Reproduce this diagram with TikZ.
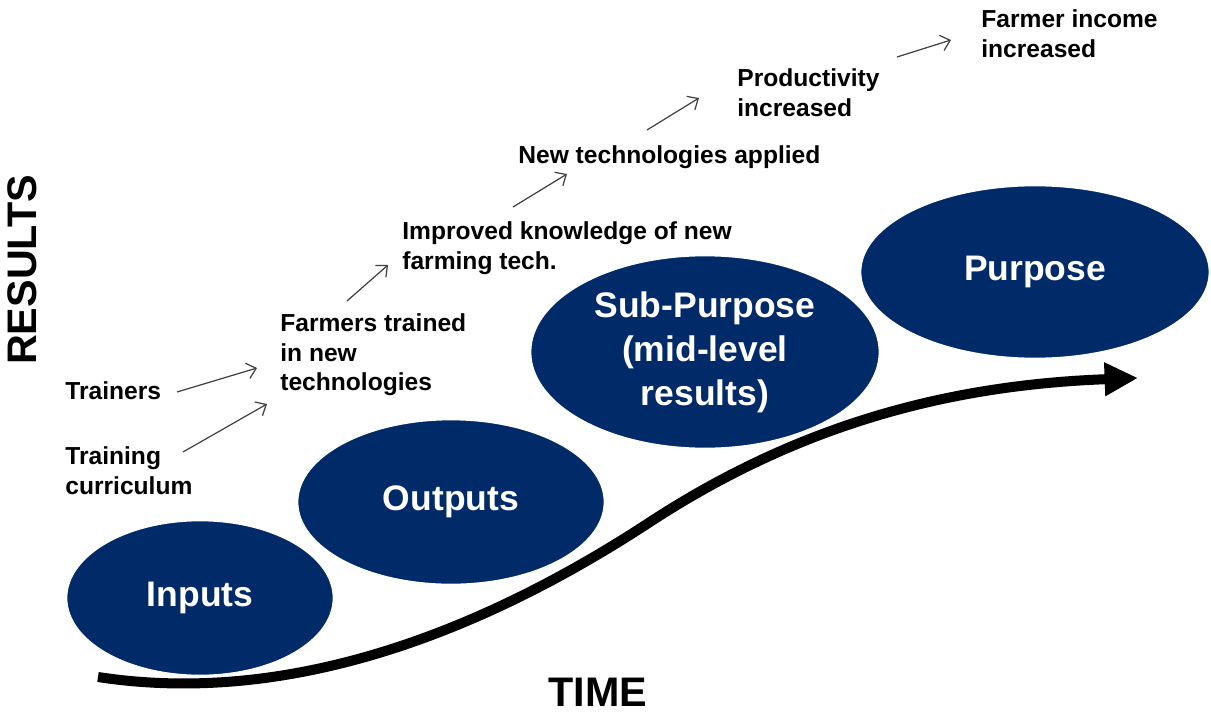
\documentclass[tikz,border=0pt]{standalone}
\usepackage{fontspec}
\setmainfont{Liberation Sans}
\usetikzlibrary{arrows.meta,shapes.geometric}
\definecolor{stageblue}{RGB}{0,42,104}

\begin{document}
\begin{tikzpicture}[x=0.02cm, y=-0.02cm,
	stage/.style={ellipse, fill=stageblue, draw=white, line width=1.5pt, text=white, inner sep=0pt, align=center, font=\bfseries\fontsize{20.2}{25}\selectfont},
	result/.style={anchor=north west, inner sep=0pt, align=left, font=\bfseries\fontsize{14}{17}\selectfont},
	leadsto/.style={draw=black!75, line width=0.7pt, -{Straight Barb[length=5pt,width=9pt]}},
	axislabel/.style={inner sep=0pt, font=\bfseries\fontsize{23.5}{28}\selectfont}]
			%%%%% START %%%%%
			
			\useasboundingbox (0, 0) rectangle (1211, 720);
			
			\node[stage, minimum width=5.36cm, minimum height=3.12cm] (inputs) at (200, 598) {Inputs};
			\node[stage, minimum width=6.16cm, minimum height=3.32cm] (outputs) at (451, 502) {Outputs};
			\node[stage, minimum width=7.0cm, minimum height=3.88cm] (subpurpose) at (705, 352) {Sub-Purpose\\(mid-level\\results)};
			\node[stage, minimum width=7.0cm, minimum height=3.48cm] (purpose) at (1035, 272) {Purpose};
			
			\node[result] (trainers) at (65, 381) {Trainers};
			\node[result] (curriculum) at (65, 446) {Training\\curriculum};
			\node[result] (farmers) at (280, 313) {Farmers trained\\in new\\technologies};
			\node[result] (knowledge) at (402, 221) {Improved knowledge of new\\farming tech.};
			\node[result] (applied) at (518, 145) {New technologies applied};
			\node[result] (productivity) at (737, 68) {Productivity\\increased};
			\node[result] (income) at (981, 9) {Farmer income\\increased};
			
			\coordinate (t1) at (177, 392); \coordinate (t2) at (257, 368);
			\coordinate (c1) at (183, 452); \coordinate (c2) at (267, 404);
			\coordinate (f1) at (347, 301); \coordinate (f2) at (388, 265);
			\coordinate (k1) at (513, 207); \coordinate (k2) at (567, 174);
			\coordinate (n1) at (647, 130); \coordinate (n2) at (699, 98);
			\coordinate (p1) at (897, 57); \coordinate (p2) at (951, 40);
			
			\draw[leadsto] (t1) -- (t2);
			\draw[leadsto] (c1) -- (c2);
			\draw[leadsto] (f1) -- (f2);
			\draw[leadsto] (k1) -- (k2);
			\draw[leadsto] (n1) -- (n2);
			\draw[leadsto] (p1) -- (p2);
			
			\coordinate (start) at (98, 677);
			\coordinate (bend) at (650, 522);
			\coordinate (tip) at (1138, 378);
			\draw[line width=5.7pt, -{Triangle[length=19pt,width=18pt]}] (start) .. controls (280, 705) and (470, 640) .. (bend) .. controls (800, 424) and (950, 385) .. (tip);
			
			\node[axislabel, rotate=90] (results) at (22, 270) {RESULTS};
			\node[axislabel] (time) at (598, 692) {TIME};
			
			%%%%% END %%%%%
\end{tikzpicture}
\end{document}
